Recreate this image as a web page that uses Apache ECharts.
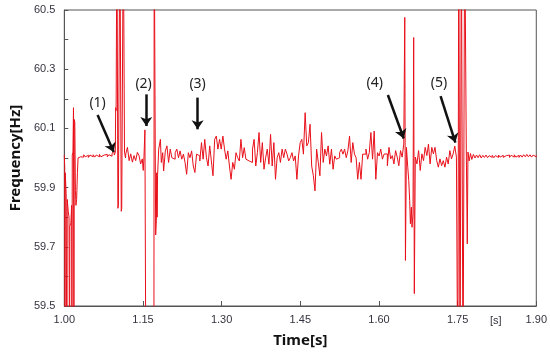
<!DOCTYPE html>
<html><head><meta charset="utf-8">
<script src="https://cdn.jsdelivr.net/npm/echarts@6/dist/echarts.min.js"></script>
<style>html,body{margin:0;padding:0;background:#fff}#c{width:550px;height:353px}</style>
</head><body><div id="c"></div>
<script>
// Time [s], Frequency [Hz] samples (values beyond the axis are clipped spikes)
const segStart = [[1.0000,60.01],[1.0008,59.97],[1.0013,59.2],[1.0018,59.95],[1.0035,59.88],[1.0050,59.2],[1.0056,59.86],[1.0075,59.82],[1.0090,59.80],[1.0100,59.2],[1.0106,59.77],[1.0125,59.78],[1.0140,59.84],[1.0145,59.2],[1.0152,60.01],[1.0165,60.02],[1.0175,60.17],[1.0183,59.2],[1.0190,60.13],[1.0200,60.12],[1.0212,59.89],[1.0222,59.84],[1.0235,59.86],[1.0250,59.95],[1.0262,60.00]];
const segFlat = [[1.028,60.004],[1.031,60.010],[1.034,60.003],[1.037,60.011],[1.040,60.004],[1.043,60.009],[1.046,60.002],[1.049,60.010],[1.052,60.004],[1.055,60.011],[1.058,60.003],[1.061,60.010],[1.064,60.004],[1.067,60.012],[1.070,60.004],[1.073,60.010],[1.076,60.005],[1.079,60.012],[1.082,60.004],[1.085,60.011],[1.088,60.006],[1.091,60.014],[1.093,60.008],[1.0945,60.024],[1.0955,60.010]];
const segBurst1 = [[1.0973,60.02],[1.0979,60.17],[1.0988,60.16],[1.1003,60.8],[1.1022,59.83],[1.1031,59.84],[1.1059,60.8],[1.1086,59.82],[1.1095,59.83],[1.1125,60.8],[1.1148,60.02],[1.1167,60.00]];
const segMid1 = [[1.1172,60.014],[1.1204,60.036],[1.1236,59.991],[1.1266,60.014],[1.1298,59.986],[1.1330,60.008],[1.1361,59.991],[1.1393,60.019],[1.1425,60.008],[1.1455,59.980],[1.1487,59.997],[1.1505,59.958],[1.1519,60.003],[1.1537,60.095]];
const segBurst2 = [[1.1556,59.2],[1.1708,59.2],[1.1714,60.8],[1.1740,60.8],[1.1742,59.74],[1.1755,59.79],[1.1762,59.95],[1.1770,59.80],[1.1778,59.94]];
const segNoiseA = [[1.1800,60.030],[1.1832,60.063],[1.1850,59.985],[1.1876,60.018],[1.1894,59.956],[1.1926,60.024],[1.1957,60.041],[1.1988,59.985],[1.2020,60.030],[1.2051,60.001],[1.2082,59.996],[1.2114,60.018],[1.2145,60.030],[1.2177,60.001],[1.2208,60.024],[1.2239,59.996],[1.2271,60.013],[1.2302,59.985],[1.2333,59.945],[1.2365,60.018],[1.2396,60.001],[1.2428,60.024],[1.2459,59.973],[1.2490,59.951],[1.2522,60.013],[1.2553,60.007],[1.2584,59.990],[1.2616,60.052],[1.2647,59.996],[1.2678,60.063],[1.2710,60.001],[1.2741,59.973],[1.2773,60.041],[1.2804,59.990],[1.2835,59.940],[1.2867,60.063],[1.2898,60.074],[1.2929,60.030],[1.2961,60.063]];
const segNoiseB = [[1.2992,60.030],[1.3024,60.074],[1.3055,60.030],[1.3086,59.996],[1.3118,60.024],[1.3149,59.973],[1.3180,59.928],[1.3212,59.985],[1.3243,59.962],[1.3274,60.018],[1.3306,60.001],[1.3337,59.990],[1.3368,60.063],[1.3400,60.001],[1.3431,60.035],[1.3463,59.996],[1.3494,59.990],[1.3525,59.996],[1.3557,59.985],[1.3588,60.030],[1.3619,60.063],[1.3651,59.973],[1.3682,60.018],[1.3713,60.086],[1.3745,59.985],[1.3776,60.052],[1.3808,59.962],[1.3839,60.001],[1.3870,60.030],[1.3902,59.979],[1.3933,60.080],[1.3964,59.973],[1.3996,60.052],[1.4027,59.928],[1.4058,60.001],[1.4090,60.018],[1.4121,59.985],[1.4153,60.030],[1.4184,60.001],[1.4215,60.030],[1.4247,60.013],[1.4278,59.990],[1.4309,60.001],[1.4341,60.018],[1.4372,59.990],[1.4403,60.007],[1.4435,59.928],[1.4466,60.007]];
const segNoiseC = [[1.4498,60.052],[1.4529,60.063],[1.4560,60.013],[1.4592,60.153],[1.4623,60.041],[1.4654,60.052],[1.4686,60.114],[1.4717,59.973],[1.4749,59.940],[1.4780,59.889],[1.4811,60.030],[1.4843,59.985],[1.4874,59.940],[1.4905,60.086],[1.4937,59.985],[1.4968,60.030],[1.4999,60.007],[1.5031,60.041],[1.5062,59.979],[1.5094,60.030],[1.5125,59.962],[1.5156,60.007],[1.5188,59.996],[1.5219,60.001],[1.5250,60.018],[1.5282,60.030],[1.5313,60.013],[1.5344,60.030],[1.5376,60.001],[1.5407,60.024],[1.5439,60.074],[1.5470,59.985],[1.5501,60.052],[1.5533,60.013],[1.5564,60.001],[1.5595,59.928],[1.5627,59.985],[1.5658,59.928],[1.5689,60.013],[1.5721,60.013],[1.5752,60.030],[1.5784,59.996],[1.5815,60.018],[1.5846,60.086],[1.5878,59.996],[1.5909,60.091],[1.5940,59.928],[1.5972,60.018],[1.6003,60.007],[1.6034,60.030],[1.6066,59.996],[1.6097,60.013]];
const segNoiseD = [[1.6129,60.014],[1.6160,59.974],[1.6191,60.036],[1.6223,59.997],[1.6254,60.008],[1.6285,59.980],[1.6317,60.025],[1.6348,60.003],[1.6379,59.974],[1.6411,60.025],[1.6442,60.003],[1.6473,60.047]];
const segEvent4 = [[1.6492,60.475],[1.6505,59.654],[1.6524,60.036],[1.6549,59.969],[1.6568,59.924],[1.6586,59.856],[1.6599,59.778],[1.6618,59.834],[1.6630,59.766],[1.6649,59.811],[1.6662,60.407],[1.6674,59.542]];
const segNoiseE = [[1.6693,60.003],[1.6724,59.980],[1.6756,60.025],[1.6787,59.958],[1.6818,60.014],[1.6850,59.991],[1.6881,60.036],[1.6913,60.008],[1.6944,60.047],[1.6975,59.980],[1.7007,60.036],[1.7038,60.014],[1.7069,60.036],[1.7101,59.991],[1.7132,59.969],[1.7163,59.997],[1.7195,59.974],[1.7226,59.991],[1.7258,59.969],[1.7289,60.003],[1.7320,59.980],[1.7352,60.025],[1.7383,59.997],[1.7414,60.014],[1.7446,60.040],[1.7477,60.003]];
const segBurst3 = [[1.7503,59.2],[1.7522,60.8],[1.7546,59.2],[1.7571,60.8],[1.7603,59.2],[1.7635,60.8],[1.7665,60.03],[1.7684,59.71],[1.7697,60.02]];
const segTail = [[1.7720,59.990],[1.7745,60.015],[1.7770,59.995],[1.7800,60.012],[1.7830,60.000],[1.7860,60.010],[1.7890,60.001],[1.7920,60.011],[1.7950,60.000],[1.7980,60.009],[1.8010,60.002],[1.8040,60.010],[1.8070,60.001],[1.8100,60.008],[1.8130,60.002],[1.8160,60.009],[1.8190,60.001],[1.8220,60.008],[1.8250,60.002],[1.8280,60.010],[1.8310,60.003],[1.8340,60.009],[1.8370,60.002],[1.8400,60.008],[1.8430,60.003],[1.8460,60.010],[1.8490,60.002],[1.8520,60.009],[1.8550,60.003],[1.8580,60.011],[1.8610,60.003],[1.8640,60.009],[1.8670,60.002],[1.8700,60.010],[1.8730,60.003],[1.8760,60.011],[1.8790,60.004],[1.8820,60.012],[1.8850,60.004],[1.8880,60.011],[1.8910,60.003],[1.8940,60.010],[1.8970,60.004],[1.9000,60.008]];

// annotations
const annoText = ['(1)','(2)','(3)','(4)','(5)'];
const annoLabelAt = [[1.0635,60.185],[1.1512,60.251],[1.2542,60.249],[1.5918,60.252],[1.7143,60.252]];
const arrowFrom = [[1.0635,60.145],[1.1563,60.215],[1.2542,60.204],[1.6170,60.213],[1.7175,60.209]];
const arrowTo = [[1.0942,60.020],[1.1563,60.108],[1.2542,60.097],[1.6472,60.066],[1.7457,60.052]];

const freqData = [].concat(segStart, segFlat, segBurst1, segMid1, segBurst2, segNoiseA, segNoiseB, segNoiseC, segNoiseD, segEvent4, segNoiseE, segBurst3, segTail);

const chart = echarts.init(document.getElementById('c'), null, {renderer: 'canvas'});
const tickColor = '#33333f';
chart.setOption({
  animation: false,
  grid: {left: 59, right: 13, top: 10, bottom: 46, show: true, borderColor: '#555', borderWidth: 1},
  xAxis: {
    type: 'value', min: 1.0, max: 1.9, interval: 0.15,
    name: 'Time[s]', nameLocation: 'middle', nameGap: 27,
    nameTextStyle: {fontFamily: 'Noto Sans', fontWeight: 'bold', fontSize: 15, color: '#111'},
    axisLine: {lineStyle: {color: '#555'}},
    axisTick: {inside: true, length: 5, lineStyle: {color: '#555'}},
    axisLabel: {color: tickColor, fontFamily: 'Liberation Sans', fontSize: 11, margin: 8, formatter: v => v.toFixed(2)},
    splitLine: {show: false}
  },
  yAxis: {
    type: 'value', min: 59.5, max: 60.5, interval: 0.1,
    name: 'Frequency[Hz]', nameLocation: 'middle', nameGap: 41,
    nameTextStyle: {fontFamily: 'Noto Sans', fontWeight: 'bold', fontSize: 15, color: '#111'},
    axisLine: {lineStyle: {color: '#555'}},
    axisTick: {inside: true, length: 4, lineStyle: {color: '#555'}},
    axisLabel: {color: tickColor, fontFamily: 'Liberation Sans', fontSize: 11, margin: 9,
      formatter: v => (Math.round(v * 10) % 2 === 1 ? v.toFixed(1) : '')},
    splitLine: {show: false}
  },
  graphic: [{type: 'text', left: 490, top: 315, style: {text: '[s]', fill: tickColor, font: '11px "Liberation Sans"'}}],
  series: [{
    type: 'line', data: freqData, showSymbol: false, clip: true, step: 'end',
    lineStyle: {color: '#e8101a', width: 1},
    markLine: {
      silent: true, symbol: ['none', 'arrow'], symbolSize: 9,
      label: {show: false},
      lineStyle: {color: '#111', width: 2.5, type: 'solid'},
      data: arrowFrom.map((p, i) => [{coord: p}, {coord: arrowTo[i]}])
    },
    markPoint: {
      silent: true, symbol: 'circle', symbolSize: 0,
      label: {show: true, position: 'inside', color: '#222', fontFamily: 'Noto Sans', fontSize: 14, formatter: p => p.name},
      data: annoLabelAt.map((p, i) => ({coord: p, name: annoText[i]}))
    }
  }]
});
</script></body></html>
